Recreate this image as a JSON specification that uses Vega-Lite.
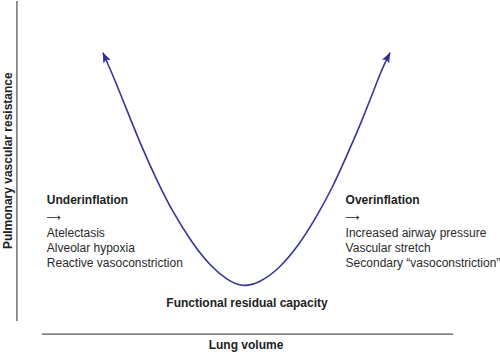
{
  "$schema": "https://vega.github.io/schema/vega-lite/v6.json",
  "width": 500,
  "height": 352,
  "autosize": {"type": "fit", "contains": "padding"},
  "padding": 0,
  "background": "white",
  "config": {"view": {"stroke": null}},
  "datasets": {
    "curve": [
      {"volume": 20.66, "resistance": 85.31},
      {"volume": 23.0, "resistance": 77.76},
      {"volume": 25.66, "resistance": 68.27},
      {"volume": 28.34, "resistance": 58.81},
      {"volume": 31.34, "resistance": 49.35},
      {"volume": 34.66, "resistance": 39.86},
      {"volume": 38.8, "resistance": 30.6},
      {"volume": 42.2, "resistance": 24.6},
      {"volume": 45.5, "resistance": 20.6},
      {"volume": 48.6, "resistance": 18.5},
      {"volume": 52.0, "resistance": 19.6},
      {"volume": 56.0, "resistance": 23.6},
      {"volume": 60.0, "resistance": 30.4},
      {"volume": 63.34, "resistance": 37.98},
      {"volume": 66.66, "resistance": 46.51},
      {"volume": 69.34, "resistance": 55.03},
      {"volume": 72.0, "resistance": 63.55},
      {"volume": 74.66, "resistance": 73.01},
      {"volume": 76.66, "resistance": 80.6},
      {"volume": 78.34, "resistance": 85.31}
    ],
    "ends": [
      {"volume": 20.66, "resistance": 85.31, "side": "left"},
      {"volume": 78.34, "resistance": 85.31, "side": "right"}
    ],
    "axes": [
      {"axis": "y", "volume": 3.4, "volume2": 3.4, "resistance": 100, "resistance2": 8.8},
      {"axis": "x", "volume": 8.4, "volume2": 91.0, "resistance": 5.1, "resistance2": 5.1}
    ],
    "labels": [
      {"label": "Underinflation", "volume": 9.4, "resistance": 43.2, "group": "heading"},
      {"label": "⟶", "volume": 9.3, "resistance": 38.1, "group": "arrow"},
      {"label": "Atelectasis", "volume": 9.4, "resistance": 33.8, "group": "item"},
      {"label": "Alveolar hypoxia", "volume": 9.4, "resistance": 29.5, "group": "item"},
      {"label": "Reactive vasoconstriction", "volume": 9.4, "resistance": 25.3, "group": "item"},
      {"label": "Overinflation", "volume": 69.4, "resistance": 43.2, "group": "heading"},
      {"label": "⟶", "volume": 69.3, "resistance": 38.1, "group": "arrow"},
      {"label": "Increased airway pressure", "volume": 69.4, "resistance": 33.8, "group": "item"},
      {"label": "Vascular stretch", "volume": 69.4, "resistance": 29.5, "group": "item"},
      {"label": "Secondary “vasoconstriction”", "volume": 69.4, "resistance": 25.3, "group": "item"},
      {"label": "Functional residual capacity", "volume": 49.6, "resistance": 13.9, "group": "center"},
      {"label": "Lung volume", "volume": 49.4, "resistance": 2.0, "group": "center"},
      {"label": "Pulmonary vascular resistance", "volume": 1.6, "resistance": 54.5, "group": "vertical"}
    ]
  },
  "encoding": {
    "x": {"field": "volume", "type": "quantitative", "scale": {"domain": [0, 100], "nice": false, "zero": false}, "axis": null},
    "y": {"field": "resistance", "type": "quantitative", "scale": {"domain": [0, 100], "nice": false, "zero": false}, "axis": null}
  },
  "layer": [
    {
      "data": {"name": "axes"},
      "mark": {"type": "rule", "color": "#2a2a2a", "strokeWidth": 1},
      "encoding": {
        "x2": {"field": "volume2"},
        "y2": {"field": "resistance2"}
      }
    },
    {
      "data": {"name": "curve"},
      "mark": {"type": "line", "interpolate": "basis", "color": "#36369a", "strokeWidth": 1.6},
      "encoding": {}
    },
    {
      "data": {"name": "ends"},
      "transform": [{"filter": "datum.side === 'left'"}],
      "mark": {"type": "point", "shape": "M0,0 L0.8,2 L0,1.6 L-0.8,2 Z", "size": 100, "filled": true, "color": "#2b2ba6", "opacity": 1, "angle": -24}
    },
    {
      "data": {"name": "ends"},
      "transform": [{"filter": "datum.side === 'right'"}],
      "mark": {"type": "point", "shape": "M0,0 L0.8,2 L0,1.6 L-0.8,2 Z", "size": 100, "filled": true, "color": "#2b2ba6", "opacity": 1, "angle": 27}
    },
    {
      "data": {"name": "labels"},
      "transform": [{"filter": "datum.group === 'heading'"}],
      "mark": {"type": "text", "align": "left", "baseline": "middle", "font": "Liberation Sans", "fontSize": 12, "fontWeight": "bold", "color": "#222222"},
      "encoding": {"text": {"field": "label"}}
    },
    {
      "data": {"name": "labels"},
      "transform": [{"filter": "datum.group === 'item'"}],
      "mark": {"type": "text", "align": "left", "baseline": "middle", "font": "Liberation Sans", "fontSize": 12, "color": "#2a2a2a"},
      "encoding": {"text": {"field": "label"}}
    },
    {
      "data": {"name": "labels"},
      "transform": [{"filter": "datum.group === 'arrow'"}],
      "mark": {"type": "text", "align": "left", "baseline": "middle", "font": "DejaVu Sans", "fontSize": 10, "color": "#222222"},
      "encoding": {"text": {"field": "label"}}
    },
    {
      "data": {"name": "labels"},
      "transform": [{"filter": "datum.group === 'center'"}],
      "mark": {"type": "text", "align": "center", "baseline": "middle", "font": "Liberation Sans", "fontSize": 12, "fontWeight": "bold", "color": "#222222"},
      "encoding": {"text": {"field": "label"}}
    },
    {
      "data": {"name": "labels"},
      "transform": [{"filter": "datum.group === 'vertical'"}],
      "mark": {"type": "text", "align": "center", "baseline": "middle", "angle": 270, "font": "Liberation Sans", "fontSize": 12, "fontWeight": "bold", "color": "#222222"},
      "encoding": {"text": {"field": "label"}}
    }
  ]
}
